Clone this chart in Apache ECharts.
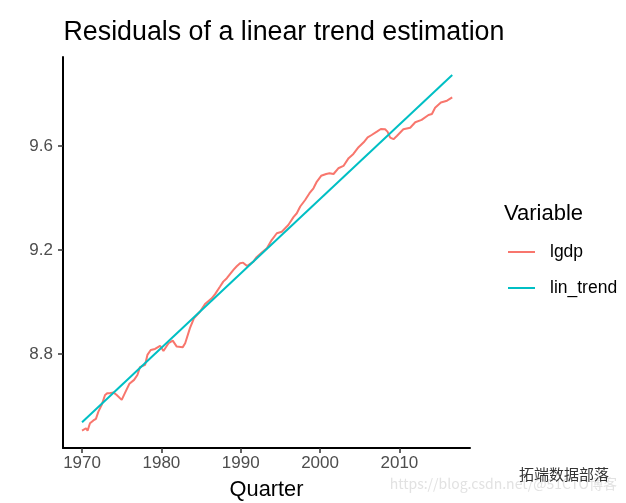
<!DOCTYPE html>
<html><head><meta charset="utf-8">
<style>html,body{margin:0;padding:0;background:#fff}#c{width:626px;height:503px}</style>
<script src="https://cdn.jsdelivr.net/npm/echarts@6/dist/echarts.min.js"></script>
</head><body><div id="c"></div>
<script>
const lgdp = [[1970.0,8.505],[1970.25,8.510],[1970.5,8.514],[1970.7,8.505],[1971.0,8.533],[1971.43,8.544],[1971.75,8.550],[1972.06,8.578],[1972.48,8.604],[1972.9,8.642],[1973.2,8.649],[1973.5,8.649],[1973.95,8.652],[1974.37,8.642],[1975.0,8.623],[1975.4,8.649],[1975.97,8.685],[1976.56,8.700],[1976.98,8.719],[1977.3,8.749],[1977.95,8.758],[1978.24,8.796],[1978.66,8.815],[1979.2,8.819],[1979.84,8.831],[1980.26,8.811],[1980.5,8.809],[1980.9,8.841],[1981.43,8.851],[1981.94,8.828],[1982.7,8.826],[1983.0,8.841],[1983.6,8.899],[1984.1,8.937],[1984.88,8.963],[1985.5,8.992],[1986.35,9.014],[1986.77,9.030],[1987.4,9.059],[1987.8,9.078],[1988.25,9.091],[1989.08,9.123],[1989.5,9.137],[1989.92,9.149],[1990.3,9.151],[1990.8,9.138],[1991.6,9.155],[1992.0,9.172],[1992.66,9.19],[1993.3,9.206],[1993.9,9.238],[1994.55,9.264],[1995.18,9.270],[1996.0,9.296],[1996.65,9.326],[1997.07,9.341],[1997.5,9.367],[1998.12,9.392],[1998.67,9.418],[1999.17,9.437],[1999.6,9.463],[2000.14,9.485],[2000.77,9.492],[2001.19,9.495],[2001.7,9.492],[2002.3,9.514],[2002.95,9.523],[2003.6,9.553],[2004.2,9.569],[2004.85,9.595],[2005.5,9.614],[2006.0,9.633],[2006.5,9.642],[2007.16,9.655],[2007.66,9.665],[2008.2,9.664],[2008.5,9.655],[2008.84,9.632],[2009.26,9.626],[2009.68,9.638],[2010.5,9.664],[2011.36,9.670],[2012.0,9.691],[2012.8,9.700],[2013.67,9.719],[2014.1,9.723],[2014.5,9.747],[2015.23,9.767],[2016.0,9.774],[2016.66,9.787]];
const linTrend = [[1970.0,8.537],[2016.66,9.873]];
const seriesNames = ['lgdp','lin_trend'];
const xTicks = [1970,1980,1990,2000,2010];
const yTicks = [8.8,9.2,9.6];
const colors = ['#F8766D','#00BFC4'];
const FONT = '"Liberation Sans", Arial, sans-serif';
const chart = echarts.init(document.getElementById('c'), null, {renderer:'canvas'});
chart.setOption({
  animation:false,
  backgroundColor:'#fff',
  textStyle:{fontFamily:FONT},
  title:[
    {text:'Residuals of a linear trend estimation',left:63.5,top:19,padding:0,textStyle:{fontFamily:FONT,fontSize:26.8,fontWeight:'normal',color:'#000'}},
    {text:'Variable',left:504,top:203,padding:0,textStyle:{fontFamily:FONT,fontSize:22,fontWeight:'normal',color:'#000'}}
  ],
  legend:{orient:'vertical',left:508,top:243,padding:0,itemWidth:27,itemHeight:2,itemGap:18,
    data:seriesNames.map(n=>({name:n,icon:'rect'})),
    textStyle:{fontFamily:FONT,fontSize:17.5,color:'#000',padding:[0,0,0,10]}},
  grid:{left:63,right:156,top:57,bottom:55,outerBoundsMode:'none'},
  xAxis:{type:'value',min:1967.6,max:2018.9,
    axisLine:{show:true,onZero:false,lineStyle:{color:'#000',width:2}},
    axisTick:{show:true,length:5,lineStyle:{color:'#333',width:1.5},customValues:xTicks},
    axisLabel:{fontSize:17,color:'#4d4d4d',margin:7,fontFamily:FONT,customValues:xTicks,formatter:v=>String(v)},
    splitLine:{show:false},
    name:'Quarter',nameLocation:'middle',nameGap:31,nameTextStyle:{fontSize:21.8,color:'#000',fontFamily:FONT}},
  yAxis:{type:'value',min:8.438,max:9.942,
    axisLine:{show:true,onZero:false,lineStyle:{color:'#000',width:2}},
    axisTick:{show:true,length:5,lineStyle:{color:'#333',width:1.5},customValues:yTicks},
    axisLabel:{fontSize:17,color:'#4d4d4d',margin:10,fontFamily:FONT,customValues:yTicks,formatter:v=>v.toFixed(1)},
    splitLine:{show:false}},
  graphic:[
    {type:'text',right:9,top:477,silent:true,z:-1,style:{text:'https://blog.csdn.net/@51CTO博客',font:'14px "Noto Sans CJK SC"',fill:'#e2e2e2'}},
    {type:'text',left:519,top:467,silent:true,style:{text:'拓端数据部落',font:'15px "Noto Sans CJK SC"',fill:'#333'}}
  ],
  series:[
    {name:seriesNames[0],type:'line',data:lgdp,showSymbol:false,symbol:'none',lineStyle:{color:colors[0],width:2},itemStyle:{color:colors[0]}},
    {name:seriesNames[1],type:'line',data:linTrend,showSymbol:false,symbol:'none',lineStyle:{color:colors[1],width:2},itemStyle:{color:colors[1]}}
  ]
});
</script></body></html>
